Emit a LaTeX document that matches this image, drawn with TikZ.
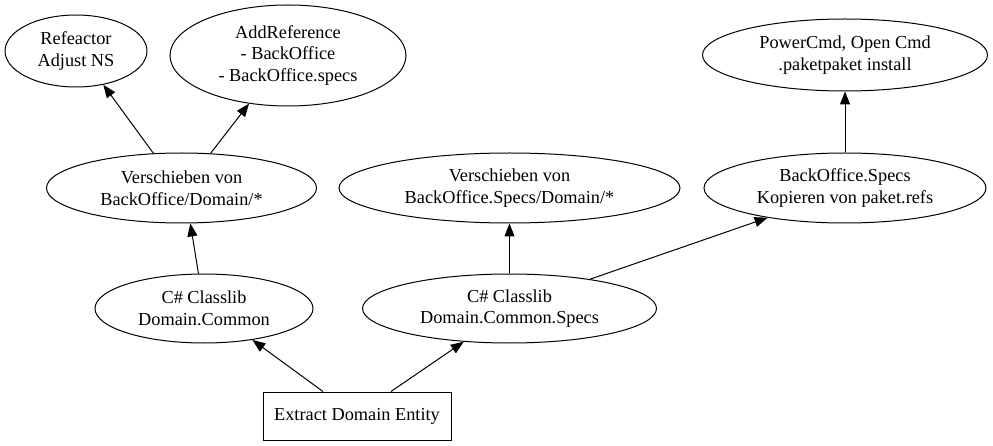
\documentclass[tikz,border=0pt]{standalone}
\usepackage{fontspec}
\setmainfont{Liberation Serif}
\newfontfamily\tms{Liberation Serif}
\usetikzlibrary{shapes.geometric,arrows.meta}
\begin{document}
\begin{tikzpicture}[x=1pt,y=-1pt,
  ell/.style={draw,ellipse,inner sep=0pt,line width=1pt,align=center,
    font=\tms\fontsize{18.3}{21.5}\selectfont},
  boxnode/.style={draw,rectangle,inner sep=0pt,line width=1pt,align=center,
    font=\tms\fontsize{18.3}{21.5}\selectfont},
  conn/.style={line width=1pt,-{Triangle[length=13pt,width=10pt]}}]
\useasboundingbox (0,0) rectangle (993,446);

\node[boxnode,minimum width=188pt,minimum height=48pt] (ext) at (357,416) {Extract Domain Entity};
\node[ell,minimum width=218pt,minimum height=69pt] (dc) at (204,308.5) {C\# Classlib\\Domain.Common};
\node[ell,minimum width=294pt,minimum height=69pt] (dcs) at (509.5,308.5) {C\# Classlib\\Domain.Common.Specs};
\node[ell,minimum width=270pt,minimum height=70pt] (vbo) at (181.5,188) {Verschieben von\\BackOffice/Domain/*};
\node[ell,minimum width=341pt,minimum height=70pt] (vbs) at (509.5,188) {Verschieben von\\BackOffice.Specs/Domain/*};
\node[ell,minimum width=282pt,minimum height=70pt] (bos) at (845,188) {BackOffice.Specs\\Kopieren von paket.refs};
\node[ell,minimum width=142pt,minimum height=72pt] (ref) at (76,51) {Refeactor\\Adjust NS};
\node[ell,minimum width=236pt,minimum height=101pt] (addr) at (288,55.5) {AddReference\\- BackOffice\\- BackOffice.specs};
\node[ell,minimum width=285pt,minimum height=72pt] (pcmd) at (845,55) {PowerCmd, Open Cmd\\.paketpaket install};

\draw[conn] ([xshift=-34pt]ext.north) -- (dc.-33.8);
\draw[conn] ([xshift=34pt]ext.north) -- (dcs.-144.2);
\draw[conn] (dc.99.9) -- (vbo.-76.3);
\draw[conn] (dcs.north) -- (vbs.south);
\draw[conn] (dcs.20.1) -- (bos.-159.8);
\draw[conn] (vbo.129.2) -- (ref.-51);
\draw[conn] (vbo.50.9) -- (addr.-129.4);
\draw[conn] (bos.north) -- (pcmd.south);
\end{tikzpicture}
\end{document}
